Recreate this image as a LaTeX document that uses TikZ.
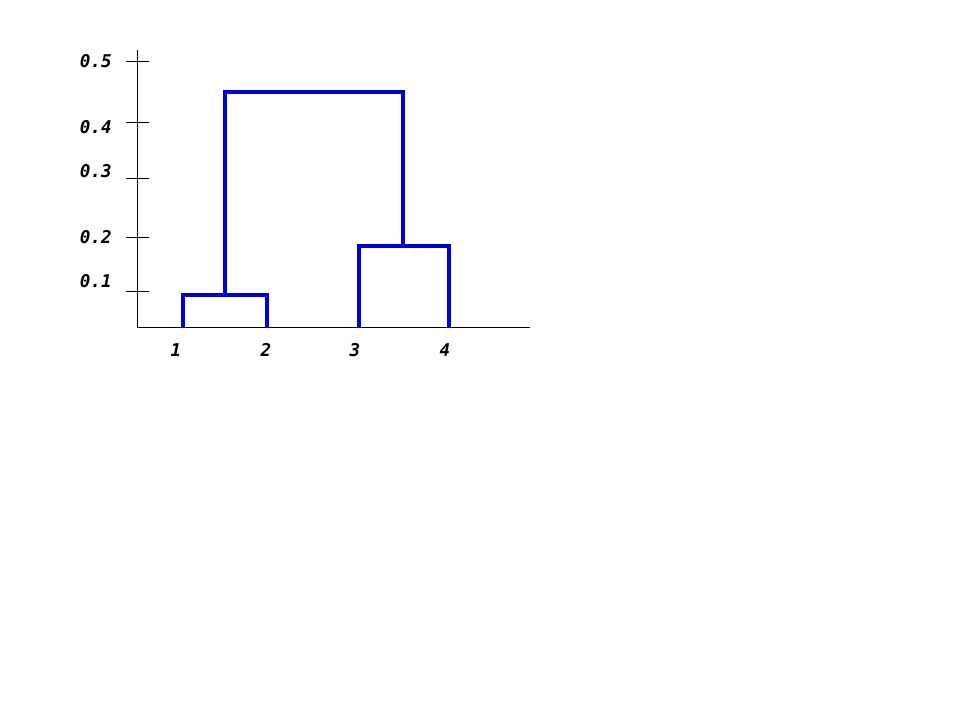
\documentclass[tikz,border=0pt]{standalone}
\usepackage{fontspec}
\newfontfamily\lblfont{DejaVu Sans Mono}
\definecolor{treeblue}{RGB}{0,0,220}
\begin{document}
\begin{tikzpicture}[x=0.02cm,y=-0.02cm,
  axis/.style={black,line width=0.45pt},
  tree/.style={draw=treeblue,line width=2.2pt,line cap=butt,line join=miter},
  lbl/.style={font=\lblfont\bfseries\itshape\fontsize{10}{11}\selectfont,inner sep=0pt,text=black}]
\useasboundingbox (0,0) rectangle (960,720);
% axes
\coordinate (ytop) at (137,50);
\coordinate (orig) at (137,327);
\coordinate (xend) at (530,327);
\draw[axis] (ytop) -- (orig) -- (xend);
% ticks
\foreach \y/\n in {61/a,122/b,178/c,237/d,291/e}{
  \coordinate (tl\n) at (126,\y);
  \coordinate (tr\n) at (149,\y);
  \draw[axis] (tl\n) -- (tr\n);
}
% y labels
\node[lbl,anchor=east] (y5) at (112,61) {0.5};
\node[lbl,anchor=east] (y4) at (112,127) {0.4};
\node[lbl,anchor=east] (y3) at (112,171) {0.3};
\node[lbl,anchor=east] (y2) at (112,237) {0.2};
\node[lbl,anchor=east] (y1) at (112,281) {0.1};
% x labels
\node[lbl] (x1) at (176,350) {1};
\node[lbl] (x2) at (266,350) {2};
\node[lbl] (x3) at (355,350) {3};
\node[lbl] (x4) at (445,350) {4};
% dendrogram
\coordinate (l1) at (183,328);
\coordinate (l2) at (267,328);
\coordinate (l3) at (359,328);
\coordinate (l4) at (449,328);
\coordinate (j12) at (225,295);
\coordinate (j34) at (403,246);
\coordinate (top) at (314,92);
\draw[tree] (l1) -- (l1 |- j12) -- (l2 |- j12) -- (l2);
\draw[tree] (l3) -- (l3 |- j34) -- (l4 |- j34) -- (l4);
\draw[tree] (j12) -- (j12 |- top) -- (j34 |- top) -- (j34);
\end{tikzpicture}
\end{document}
